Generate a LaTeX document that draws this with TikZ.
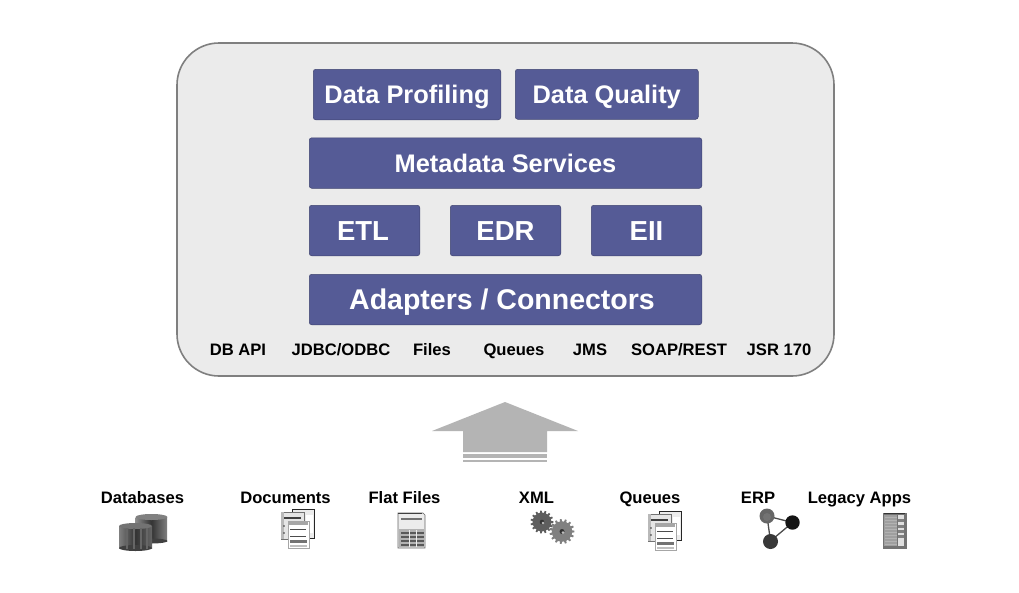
\documentclass[tikz,border=0pt]{standalone}
\usepackage{fontspec}
\setmainfont{Liberation Sans}
\usetikzlibrary{calc}
\definecolor{panelfill}{HTML}{EBEBEB}
\definecolor{panelline}{HTML}{7F7F7F}
\definecolor{boxfill}{HTML}{555B96}
\definecolor{boxline}{HTML}{3F4470}
\definecolor{arrowgrey}{HTML}{B4B4B4}
\definecolor{geara}{HTML}{5E5E5E}
\definecolor{gearb}{HTML}{808080}
\newcommand{\fsz}[1]{\fontsize{#1}{#1}\selectfont\bfseries}
\tikzset{
  x=1pt,y=-1pt,
  panel/.style={draw=panelline,line width=1.6pt,fill=panelfill,rounded corners=42pt},
  bluebox/.style={draw=boxline,line width=0.5pt,fill=boxfill,rounded corners=2.5pt,text=white,inner sep=0pt,anchor=north west,align=center},
  capsize/.style={font=\fsz{#1},text height=0.72*#1pt,text depth=0pt},
  lab/.style={text=black,inner sep=0pt,anchor=base,font=\fsz{16.6}},
  arrowpart/.style={fill=arrowgrey,draw=none},
}
\newcommand{\sheet}[2]{% stacked document icon
  \begin{scope}[shift={(#1,#2)}]
    \fill[gray!15,draw=black!85,line width=0.7pt] (11,0) -- (33,0) -- (33,29) -- (11,29) -- cycle;
    \fill[white] (25,6) rectangle (32,24);
    \fill[gray!20,draw=black!55,line width=0.7pt] (0,3) -- (23,3) -- (23,30) -- (0,30) -- cycle;
    \fill[gray!55] (0,3) rectangle (3,30);
    \fill[black!75] (3,8) rectangle (20,9.5);
    \fill[black!80] (3,17) circle (0.9);
    \fill[black!80] (3,24) circle (0.9);
    \fill[white,draw=gray!70,line width=0.5pt] (7,12) -- (28,12) -- (28,39) -- (7,39) -- cycle;
    \fill[gray!70] (8,12.5) rectangle (27,16);
    \fill[black!70] (9,19.5) rectangle (25,20.5);
    \fill[black!70] (9,26.5) rectangle (25,27.5);
    \fill[gray!90!black] (9,31) rectangle (26,33.5);
    \fill[gray!50] (9,35.5) rectangle (26,37.5);
  \end{scope}
}
\newcommand{\gear}[4]{% x y r colour
  \fill[#4] (#1,#2) circle (#3*0.82);
  \foreach \a in {0,24,...,336}{\fill[#4] ($(#1,#2)+(\a-7:#3*0.78)$) -- ($(#1,#2)+(\a-4:#3)$) -- ($(#1,#2)+(\a+4:#3)$) -- ($(#1,#2)+(\a+7:#3*0.78)$) -- cycle;}
  \fill[black!80] (#1,#2) circle (#3*0.2);
  \fill[gray!50] (#1+1,#2+1) circle (#3*0.12);
}
\begin{document}
\begin{tikzpicture}
\useasboundingbox (0,0) rectangle (1019,592);
\fill[white] (0,0) rectangle (1019,592);
\draw[panel] (177,43) rectangle (834,376);
% boxes
\node[bluebox,minimum width=187.5pt,minimum height=50.5pt,capsize=25.4] (dp) at (313,69) {Data Profiling};
\node[bluebox,minimum width=183pt,minimum height=50pt,capsize=25.4] (dq) at (515,69) {Data Quality};
\node[bluebox,minimum width=392.5pt,minimum height=50.5pt,capsize=25.4] (ms) at (309,137.5) {Metadata Services};
\node[bluebox,minimum width=110.5pt,minimum height=50.5pt,capsize=27.5] (etl) at (309,205) {ETL\kern3pt};
\node[bluebox,minimum width=110.5pt,minimum height=50.5pt,capsize=27.5] (edr) at (450,205) {EDR};
\node[bluebox,minimum width=110.5pt,minimum height=50.5pt,capsize=27.5] (eii) at (591,205) {EII};
\node[bluebox,minimum width=392.5pt,minimum height=50.5pt,capsize=28.5] (ac) at (309,274) {Adapters / Connectors\kern7pt};
% protocol labels
\node[lab] (l1) at (238,355) {DB API};
\node[lab] (l2) at (341,355) {JDBC/ODBC};
\node[lab] (l3) at (432,355) {Files};
\node[lab] (l4) at (514,355) {Queues};
\node[lab] (l5) at (590,355) {JMS};
\node[lab] (l6) at (679,355) {SOAP/REST};
\node[lab] (l7) at (779,355) {JSR 170};
% arrow
\fill[arrowpart] (505,402) -- (578,431) -- (547,431) -- (547,452) -- (463,452) -- (463,431) -- (432,431) -- cycle;
\fill[arrowpart] (463,453.5) rectangle (547,457.5);
\fill[arrowpart] (463,459.5) rectangle (547,461.5);
% source labels
\node[lab] (s1) at (142.5,503.5) {Databases};
\node[lab] (s2) at (285.5,503.5) {Documents};
\node[lab] (s3) at (404.5,503.5) {Flat Files};
\node[lab] (s4) at (536.5,503.5) {XML};
\node[lab] (s5) at (650,503.5) {Queues};
\node[lab] (s6) at (758,503.5) {ERP};
\node[lab] (s7) at (859.5,503.5) {Legacy Apps};
% databases icon
\shade[left color=black!45,right color=black!50,middle color=black!80] (135.5,517) rectangle (167,541);
\fill[black!50] (151.5,517) ellipse [x radius=16,y radius=3];
\fill[black!75] (151.5,541) ellipse [x radius=16,y radius=2.5];
\shade[left color=black!50,right color=black!60,middle color=black!80] (119,526) rectangle (152,548);
\fill[black!55] (135.5,526) ellipse [x radius=16.5,y radius=3];
\fill[black!75] (135.5,548) ellipse [x radius=16.5,y radius=3];
\foreach \xx in {126,133,140,146}{\fill[black!60] (\xx,528) rectangle (\xx+1.5,549);}
% documents icons
\sheet{281}{509}
\sheet{648}{511}
% flat file icon
\fill[gray!15,draw=black!60,line width=0.7pt] (398,513) -- (423,513) -- (425,515) -- (425,548) -- (398,548) -- cycle;
\fill[black!75] (398,512.5) rectangle (422,514);
\fill[black!55] (401,518) rectangle (422,520);
\fill[gray!60] (399,529) rectangle (424,547);
\foreach \yy in {532,536,540,544}{\fill[black!65] (401,\yy) rectangle (424,\yy+1.5);}
\fill[gray!15] (409,530) rectangle (410,547);
\fill[gray!15] (416,530) rectangle (417,547);
% gears
\gear{542}{522}{11.5}{geara}
\gear{562}{531.5}{12.5}{gearb}
% ERP
\draw[black!70,line width=1.3pt] (767,516) -- (792.5,522.5) -- (770.5,541) -- cycle;
\fill[black!60] (767,516) circle (7.5);
\fill[black!55] (767,517) circle (4);
\fill[black!92] (792.5,522.5) circle (7.2);
\fill[black!78] (770.5,541.5) circle (7.5);
% legacy icon
\fill[black!55] (882.5,512.5) rectangle (906.5,548.5);
\fill[black!80] (884,512.5) rectangle (905,514);
\fill[gray!75] (884,515) rectangle (897,546);
\foreach \yy in {517,520,...,544}{\fill[black!30] (885,\yy) rectangle (897,\yy+1);}
\fill[gray!25] (898,515) rectangle (904,546);
\foreach \yy in {519,525,530,535}{\fill[black!50] (898,\yy) rectangle (904,\yy+3);}
\end{tikzpicture}
\end{document}
